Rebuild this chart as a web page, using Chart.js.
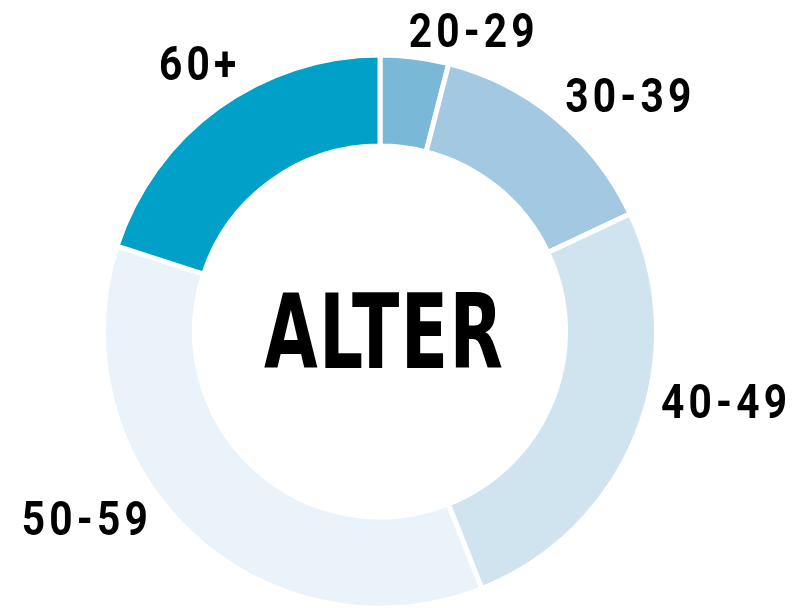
<!DOCTYPE html>
<html>
<head>
<meta charset="utf-8">
<script src="https://cdn.jsdelivr.net/npm/chart.js@4.4.1/dist/chart.umd.min.js"></script>
<style>
  html, body { margin: 0; padding: 0; background: #fff; }
  canvas { display: block; }
</style>
</head>
<body>
<canvas id="chart" width="798" height="608"></canvas>
<script>
// age groups and their share in percent
const ageGroups = ['20-29', '30-39', '40-49', '50-59', '60+'];
const shares = [4, 14, 26, 36, 20];
const sliceColours = ['#7ab8d8', '#a3c9e2', '#d0e4f0', '#eaf3f9', '#00a0c8'];
const centerTitle = 'ALTER';

// where each label sits, relative to the outer middle of its slice
const labelOffsets = [[57, -28], [72, -24], [87, -33], [-106, -16], [-20, -45]];

const labelFont = "bold 49px Roboto, 'DejaVu Sans', sans-serif";
const titleFont = "bold 104px 'DejaVu Sans Condensed', 'DejaVu Sans', sans-serif";
const labelWidth = 126;   // width of a "40-49" label
const titleWidth = 239;

// labels outside the ring + the title in the middle
const ringLabels = {
    id: 'ringLabels',
    afterDatasetsDraw(chart) {
        const ctx = chart.ctx;
        const arcs = chart.getDatasetMeta(0).data;
        ctx.save();
        ctx.fillStyle = '#000';
        ctx.textAlign = 'left';
        ctx.textBaseline = 'alphabetic';

        ctx.font = labelFont;
        const ls = 5;
        ctx.letterSpacing = ls + 'px';
        const sx = labelWidth / (ctx.measureText('40-49').width - ls);
        arcs.forEach((arc, i) => {
            const p = arc.getProps(['x', 'y', 'startAngle', 'endAngle', 'outerRadius'], true);
            const mid = (p.startAngle + p.endAngle) / 2;
            const ax = p.x + Math.cos(mid) * p.outerRadius;
            const ay = p.y + Math.sin(mid) * p.outerRadius;
            const text = chart.data.labels[i];
            const w = (ctx.measureText(text).width - ls) * sx;
            const cx = ax + labelOffsets[i][0];
            const cy = ay + labelOffsets[i][1];
            ctx.save();
            ctx.translate(cx - w / 2, cy + 17.5);
            ctx.scale(sx, 1);
            ctx.fillText(text, 0, 0);
            ctx.restore();
        });

        // centre title, squeezed to look condensed
        const c = arcs[0].getProps(['x', 'y'], true);
        ctx.letterSpacing = '2px';
        ctx.font = titleFont;
        const tsx = titleWidth / (ctx.measureText(centerTitle).width - 2);
        ctx.translate(c.x + 3.5 - titleWidth / 2, c.y + 36.5);
        ctx.scale(tsx, 1);
        ctx.fillText(centerTitle, 0, 0);
        ctx.restore();
    }
};

new Chart(document.getElementById('chart'), {
    type: 'doughnut',
    data: {
        labels: ageGroups,
        datasets: [{
            data: shares,
            backgroundColor: sliceColours,
            borderColor: '#fff',
            borderWidth: 5,
            borderJoinStyle: 'miter'
        }]
    },
    options: {
        responsive: false,
        animation: false,
        radius: 276.5,
        cutout: '67.1%',
        layout: {
            padding: { top: 55, bottom: 0, left: 0, right: 38 }
        },
        plugins: {
            legend: { display: false },
            tooltip: { enabled: false }
        }
    },
    plugins: [ringLabels]
});
</script>
</body>
</html>
